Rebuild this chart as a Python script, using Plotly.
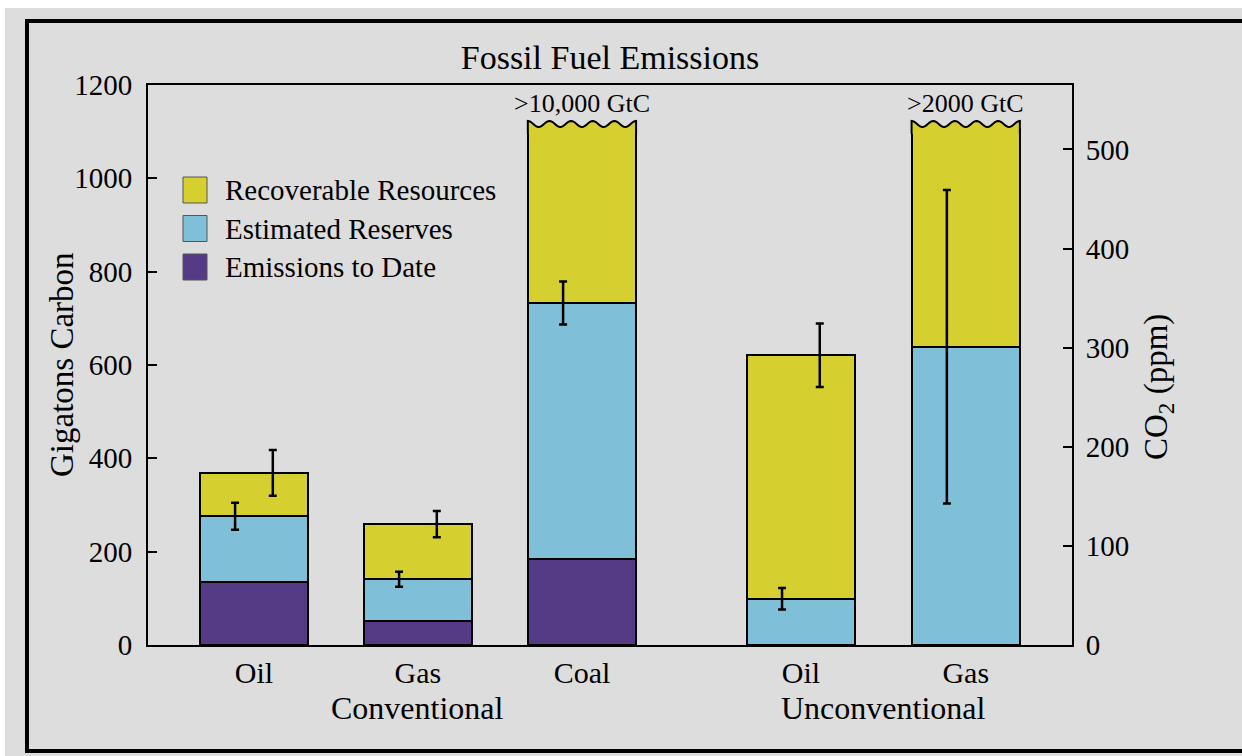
import numpy as np
import plotly.graph_objects as go

# ---------------- data ----------------
categories = ["Oil", "Gas", "Coal", "Oil", "Gas"]
groups = ["Conventional", "Unconventional"]
emissions_to_date = [136, 52, 184, 0, 0]
estimated_reserves = [140, 89, 549, 99, 639]
recoverable_resources = [93, 118, 372, 522, 466]   # drawn heights (coal / unconv. gas truncated)
reserves_err = [29, 16, 46, 23, 336]
resources_err = [49, 28, None, 68, None]
truncated_labels = [None, None, ">10,000 GtC", None, ">2000 GtC"]
series_names = ["Emissions to Date", "Estimated Reserves", "Recoverable Resources"]

# ---------------- layout / style ----------------
x_pos = [0, 1, 2, 3.335, 4.34]
bar_w = 0.66
err_off = 0.115
C_PURPLE = "#553b86"
C_BLUE = "#80bfd8"
C_YELLOW = "#d5d02f"
GRAY = "#dddddd"
FONT = "Liberation Serif"

W, H = 1242, 756
L, R, T, B = 148, 170, 85, 111
PW, PH = W - L - R, H - T - B


def px_x(p):
    return (p - L) / PW


def px_y(p):
    return (H - B - p) / PH


fig = go.Figure()
colors = [C_PURPLE, C_BLUE, C_YELLOW]
for name, vals, col in zip(series_names,
                           [emissions_to_date, estimated_reserves, recoverable_resources],
                           colors):
    fig.add_trace(go.Bar(x=x_pos, y=vals, name=name, width=bar_w,
                         marker=dict(color=col, line=dict(color="black", width=2)),
                         showlegend=False))

res_top = [a + b for a, b in zip(emissions_to_date, estimated_reserves)]
tot_top = [a + b for a, b in zip(res_top, recoverable_resources)]

fig.add_trace(go.Scatter(
    x=[p - err_off for p in x_pos], y=res_top, mode="markers",
    marker=dict(size=1, color="rgba(0,0,0,0)"), showlegend=False, hoverinfo="skip",
    error_y=dict(type="data", array=reserves_err, color="black", thickness=2.5, width=4)))

idx = [i for i, e in enumerate(resources_err) if e is not None]
fig.add_trace(go.Scatter(
    x=[x_pos[i] + err_off for i in idx], y=[tot_top[i] for i in idx], mode="markers",
    marker=dict(size=1, color="rgba(0,0,0,0)"), showlegend=False, hoverinfo="skip",
    error_y=dict(type="data", array=[resources_err[i] for i in idx],
                 color="black", thickness=2.5, width=4)))

shapes = []
annotations = []

# background + frame (left, top, bottom sides; right side lies outside the picture)
shapes.append(dict(type="rect", xref="paper", yref="paper", layer="below",
                   x0=px_x(5), x1=px_x(W + 20), y0=px_y(H + 20), y1=px_y(8),
                   fillcolor=GRAY, line=dict(width=0)))
frame = dict(color="black", width=4)
shapes.append(dict(type="line", xref="paper", yref="paper",
                   x0=px_x(27), x1=px_x(27), y0=px_y(753), y1=px_y(19), line=frame))
shapes.append(dict(type="line", xref="paper", yref="paper",
                   x0=px_x(25), x1=px_x(W + 5), y0=px_y(21), y1=px_y(21), line=frame))
shapes.append(dict(type="line", xref="paper", yref="paper",
                   x0=px_x(25), x1=px_x(W + 5), y0=px_y(751), y1=px_y(751), line=frame))

# wavy tops for truncated bars
for i, lab in enumerate(truncated_labels):
    if lab is None:
        continue
    x0, x1 = x_pos[i] - bar_w / 2, x_pos[i] + bar_w / 2
    top = tot_top[i]
    base, mid, amp = top - 10, top + 11.5, 6.5
    n = 80
    pts = [f"M {x0},{base}", f"L {x0},{mid + amp}"]
    for k in range(n + 1):
        xx = x0 + (x1 - x0) * k / n
        yy = mid + amp * np.cos(2 * np.pi * 5 * k / n)
        pts.append(f"L {xx:.4f},{yy:.2f}")
    pts.append(f"L {x1},{base}")
    shapes.append(dict(type="path", xref="x", yref="y", path=" ".join(pts),
                       fillcolor=C_YELLOW, line=dict(color="black", width=2), layer="above"))
    annotations.append(dict(x=x_pos[i], y=top + 56, xref="x", yref="y", text=lab,
                            showarrow=False, yanchor="middle",
                            font=dict(family=FONT, size=26, color="black")))

# group labels
annotations.append(dict(x=x_pos[1], y=px_y(708), xref="x", yref="paper", text=groups[0],
                        showarrow=False, yanchor="middle",
                        font=dict(family=FONT, size=32, color="black")))
annotations.append(dict(x=(x_pos[3] + x_pos[4]) / 2, y=px_y(708), xref="x", yref="paper",
                        text=groups[1], showarrow=False, yanchor="middle",
                        font=dict(family=FONT, size=32, color="black")))

# axis titles
annotations.append(dict(x=px_x(62), y=0.5, xref="paper", yref="paper", text="Gigatons Carbon",
                        textangle=-90, showarrow=False, xanchor="center", yanchor="middle",
                        font=dict(family=FONT, size=33, color="black")))
annotations.append(dict(x=px_x(1158), y=px_y(387), xref="paper", yref="paper",
                        text="CO<sub>2</sub> (ppm)", textangle=-90, showarrow=False,
                        xanchor="center", yanchor="middle",
                        font=dict(family=FONT, size=33, color="black")))

# manual legend
leg_rows = [("Recoverable Resources", C_YELLOW), ("Estimated Reserves", C_BLUE),
            ("Emissions to Date", C_PURPLE)]
for k, (name, col) in enumerate(leg_rows):
    cy = 190 + 38.5 * k
    shapes.append(dict(type="rect", xref="paper", yref="paper",
                       x0=px_x(183), x1=px_x(207), y0=px_y(cy + 13), y1=px_y(cy - 13),
                       fillcolor=col, line=dict(color="#555555", width=1)))
    annotations.append(dict(x=px_x(223), y=px_y(cy), xref="paper", yref="paper", text=name,
                            showarrow=False, xanchor="left", yanchor="middle",
                            font=dict(family=FONT, size=29, color="black")))

# dummy trace for right axis
fig.add_trace(go.Scatter(x=[x_pos[0]], y=[0], yaxis="y2", mode="markers",
                         marker=dict(size=1, color="rgba(0,0,0,0)"),
                         showlegend=False, hoverinfo="skip"))

fig.update_layout(
    width=W, height=H,
    margin=dict(l=L, r=R, t=T, b=B, pad=0),
    paper_bgcolor="white", plot_bgcolor=GRAY,
    barmode="stack", showlegend=False,
    font=dict(family=FONT, color="black"),
    title=dict(text="Fossil Fuel Emissions", x=0.5, xref="paper", y=1 - 57 / H,
               yanchor="middle", font=dict(family=FONT, size=34, color="black")),
    xaxis=dict(range=[-0.646, 4.988], tickvals=x_pos, ticktext=categories,
               ticks="", showgrid=False, zeroline=False, showline=True, mirror=True,
               linecolor="black", linewidth=2, ticklabelstandoff=0,
               tickfont=dict(family=FONT, size=30, color="black")),
    yaxis=dict(range=[0, 1200], dtick=200, ticks="inside", ticklen=9, tickwidth=2,
               tickcolor="black", showgrid=False, zeroline=False, showline=True,
               mirror=True, linecolor="black", linewidth=2, ticklabelstandoff=8,
               tickfont=dict(family=FONT, size=29, color="black")),
    yaxis2=dict(range=[0, 565], dtick=100, overlaying="y", side="right",
                ticks="inside", ticklen=9, tickwidth=2, tickcolor="black",
                showgrid=False, zeroline=False, showline=True, linecolor="black",
                linewidth=2, ticklabelstandoff=6,
                tickfont=dict(family=FONT, size=29, color="black")),
    shapes=shapes, annotations=annotations,
)

fig.write_html("out.html", config={"displayModeBar": False},
               post_script="document.body.style.margin='0';document.body.style.overflow='hidden';")
